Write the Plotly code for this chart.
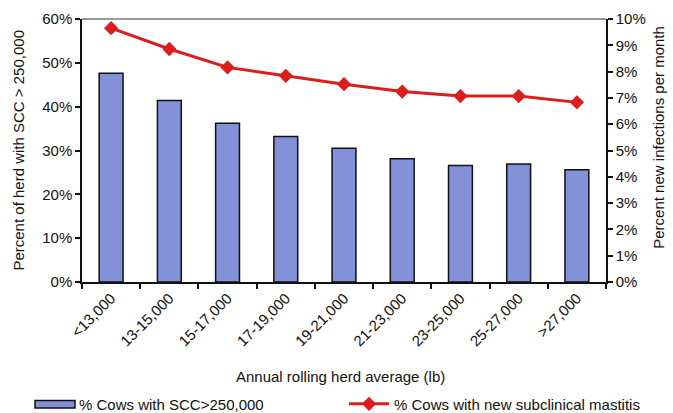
import plotly.graph_objects as go

# Herd production bands and the two measured series
categories = ["<13,000", "13-15,000", "15-17,000", "17-19,000", "19-21,000",
              "21-23,000", "23-25,000", "25-27,000", ">27,000"]
pct_scc_over_250k = [47.6, 41.4, 36.2, 33.2, 30.5, 28.1, 26.6, 26.9, 25.6]
pct_new_subclinical = [9.65, 8.86, 8.16, 7.84, 7.52, 7.24, 7.07, 7.07, 6.83]

left_ticks = [0, 10, 20, 30, 40, 50, 60]
right_ticks = [0, 1, 2, 3, 4, 5, 6, 7, 8, 9, 10]

bar_name = "% Cows with SCC>250,000"
line_name = "% Cows with new subclinical mastitis"

FONT = "Liberation Sans, Arial, sans-serif"
BAR_COLOR = "#8291D8"
LINE_COLOR = "#DD1C1C"
n = len(categories)
boundaries = [i - 0.5 for i in range(n + 1)]

fig = go.Figure()
fig.add_trace(go.Bar(
    x=categories, y=pct_scc_over_250k,
    name=bar_name,
    marker=dict(color=BAR_COLOR, line=dict(color="#111111", width=1.5)),
    yaxis="y", showlegend=False,
))
fig.add_trace(go.Scatter(
    x=categories, y=pct_new_subclinical,
    name=line_name,
    mode="lines+markers",
    line=dict(color=LINE_COLOR, width=3),
    marker=dict(symbol="diamond", size=11, color=LINE_COLOR),
    yaxis="y2",
))

axis_common = dict(showgrid=False, zeroline=False, showline=True,
                   linecolor="#111111", linewidth=1.5, automargin=False,
                   tickcolor="#111111", tickwidth=1.5, ticklen=5)

fig.update_layout(
    width=673, height=413,
    margin=dict(l=82, r=67, t=19, b=131, autoexpand=False),
    paper_bgcolor="white", plot_bgcolor="white",
    font=dict(family=FONT, size=15, color="#111111"),
    bargap=0.59,
    showlegend=True,
    legend=dict(orientation="h", x=0.500, y=-0.464, xanchor="left", yanchor="middle",
                itemwidth=40, font=dict(size=15), bgcolor="rgba(0,0,0,0)"),
    xaxis=dict(type="category", categoryorder="array", categoryarray=categories,
               range=[-0.5, n - 0.5], tickangle=-45, ticks="outside",
               tickson="boundaries", tickfont=dict(size=15), **axis_common),
    xaxis3=dict(overlaying="x", anchor="y", side="bottom", range=[-0.5, n - 0.5],
                tickmode="array", tickvals=boundaries, ticks="inside",
                showticklabels=False, **axis_common),
    yaxis=dict(range=[0, 60], tickmode="array", tickvals=left_ticks,
               ticktext=[f"{v}%" for v in left_ticks],
               ticks="outside", tickfont=dict(size=15), **axis_common),
    yaxis3=dict(overlaying="y", anchor="x", side="left", range=[0, 60],
                tickmode="array", tickvals=left_ticks, ticks="inside",
                showticklabels=False, **axis_common),
    yaxis2=dict(overlaying="y", side="right", anchor="x", range=[0, 10],
                tickmode="array", tickvals=right_ticks,
                ticktext=[f"{v}%" for v in right_ticks], ticks="outside",
                tickfont=dict(size=15), **axis_common),
    yaxis4=dict(overlaying="y", side="right", anchor="x", range=[0, 10],
                tickmode="array", tickvals=right_ticks, ticks="inside",
                showticklabels=False, **axis_common),
)

# Top border of the plot area
fig.add_shape(type="line", xref="paper", yref="paper", x0=0, x1=1, y0=1, y1=1,
              line=dict(color="#777777", width=1.5))

# Legend key for the bar series: a wide swatch followed by its label
fig.add_shape(type="rect", xref="paper", yref="paper",
              x0=-0.0897, x1=-0.0134, y0=-0.451, y1=-0.479,
              fillcolor=BAR_COLOR, line=dict(color="#111111", width=1.5))
fig.add_annotation(text=bar_name, xref="paper", yref="paper",
                   x=-0.0095, y=-0.464, showarrow=False,
                   font=dict(size=15), xanchor="left", yanchor="middle")

# Axis titles
fig.add_annotation(text="Percent of herd with SCC > 250,000", xref="paper", yref="paper",
                   x=-0.122, y=0.50, textangle=-90, showarrow=False,
                   font=dict(size=15), xanchor="center", yanchor="middle")
fig.add_annotation(text="Percent new infections per month", xref="paper", yref="paper",
                   x=1.100, y=0.55, textangle=-90, showarrow=False,
                   font=dict(size=15), xanchor="center", yanchor="middle")
fig.add_annotation(text="Annual rolling herd average (lb)", xref="paper", yref="paper",
                   x=0.494, y=-0.361, showarrow=False,
                   font=dict(size=15), xanchor="center", yanchor="middle")

fig.write_html("out.html")
